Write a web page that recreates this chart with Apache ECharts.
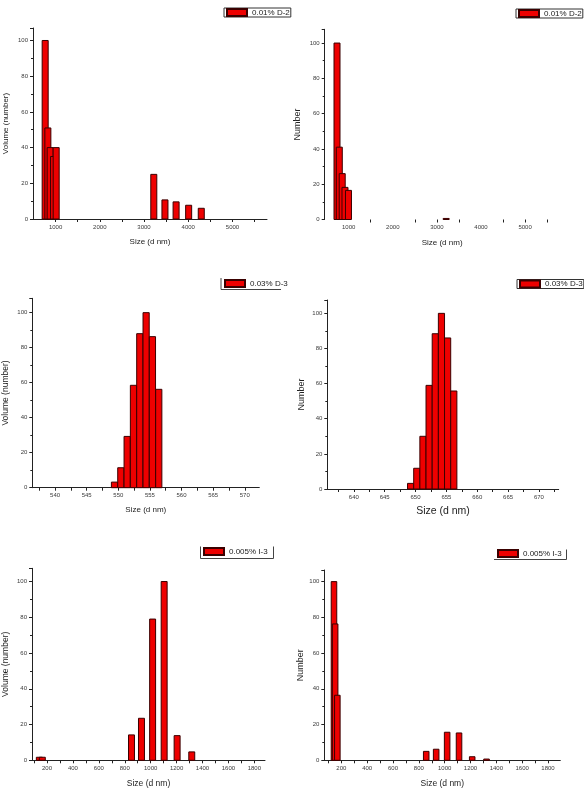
<!DOCTYPE html>
<html><head><meta charset="utf-8">
<script src="https://cdn.jsdelivr.net/npm/echarts@6/dist/echarts.min.js"></script>
<style>html,body{margin:0;padding:0;background:#fff}#c{width:584px;height:795px}</style>
</head><body><div id="c"></div>
<script>
// ---------- data ----------
const p1Sizes  = [765, 826, 878, 955, 1014, 3221, 3473, 3725, 4009, 4294];
const p1Values = [100, 51, 40, 35, 40, 25, 10.7, 9.6, 7.7, 6];
const p2Sizes  = [735, 787, 853, 916, 995, 3210];
const p2Values = [100, 41, 26, 18.2, 16.5, 0.6];
const p3Sizes  = [549.4, 550.4, 551.4, 552.4, 553.4, 554.4, 555.4, 556.4];
const p3Values = [3.2, 11.4, 29.3, 58.5, 88, 100, 86.3, 56.2];
const p4Sizes  = [649.2, 650.2, 651.2, 652.2, 653.2, 654.2, 655.2, 656.2];
const p4Values = [3.2, 11.8, 30, 59, 88.4, 100, 86, 55.8];
const p5Sizes  = [141, 164, 852, 929, 1015, 1104, 1204, 1317];
const p5Values = [1.7, 1.7, 14.2, 23.5, 79, 100, 13.8, 4.7];
const p6Sizes  = [143, 152, 169, 857, 934, 1019, 1111, 1213, 1324];
const p6Values = [100, 76.3, 36.4, 5, 6.2, 15.7, 15.3, 2, 0.7];

const topXLabels = [1000, 2000, 3000, 4000, 5000];
const p1XTicks   = [1000, 1500, 2000, 2500, 3000, 3500, 4000, 4500, 5000, 5500];
const p2XTicks   = [1500, 2500, 3000, 3500, 4500, 5000, 5500];
const p3XLabels  = [540, 545, 550, 555, 560, 565, 570];
const p3XTicks   = [537.5, 540, 542.5, 545, 547.5, 550, 552.5, 555, 557.5, 560, 562.5, 565, 567.5, 570];
const p4XLabels  = [640, 645, 650, 655, 660, 665, 670];
const p4XTicks   = [637.5, 640, 642.5, 645, 647.5, 650, 652.5, 655, 657.5, 660, 662.5, 665, 667.5, 670, 672.5];
const botXLabels = [200, 400, 600, 800, 1000, 1200, 1400, 1600, 1800];
const botXTicks  = [100, 200, 300, 400, 500, 600, 700, 800, 900, 1000, 1100, 1200, 1300, 1400, 1500, 1600, 1700, 1800];

const legendNames = ['0.01% D-2', '0.01% D-2', '0.03% D-3', '0.03% D-3', '0.005% I-3', '0.005% I-3'];
const yTitles = ['Volume (number)', 'Number', 'Volume (number)', 'Number', 'Volume (number)', 'Number'];
const xTitle = 'Size (d nm)';

// ---------- layout ----------
const FONT = 'Liberation Sans, Arial, sans-serif';
const panels = [
  {sizes:p1Sizes, values:p1Values, bin:136, grid:{left:33, top:28, width:234, height:191}, xMin:490, xMax:5780, yMax:107,
   xLabels:topXLabels, xTicks:p1XTicks, xLine:true, xGap:19, yGap:23, yFont:8, xFont:8,
   legend:{left:224, top:8, border:true}},
  {sizes:p2Sizes, values:p2Values, bin:136, grid:{left:324.7, top:29.3, width:234.8, height:190.2}, xMin:456, xMax:5780, yMax:107.8,
   xLabels:topXLabels, xTicks:p2XTicks, xLine:false, xGap:19, yGap:23, yFont:9, xFont:8,
   legend:{left:516, top:9, border:true}},
  {sizes:p3Sizes, values:p3Values, bin:0.98, grid:{left:32.3, top:298.3, width:227, height:189.4}, xMin:536.4, xMax:572.3, yMax:108.2,
   xLabels:p3XLabels, xTicks:p3XTicks, xLine:true, xGap:18, yGap:22, yFont:8.5, xFont:8,
   legend:{left:222, top:279, border:false}},
  {sizes:p4Sizes, values:p4Values, bin:1.0, grid:{left:327.3, top:300, width:231.4, height:189}, xMin:635.7, xMax:673.2, yMax:107.6,
   xLabels:p4XLabels, xTicks:p4XTicks, xLine:true, xGap:17, yGap:21.5, yFont:9, xFont:10.5,
   legend:{left:517, top:279.5, border:true}},
  {sizes:p5Sizes, values:p5Values, bin:46, grid:{left:31.7, top:568.3, width:233.3, height:192}, xMin:84.4, xMax:1882, yMax:107.4,
   xLabels:botXLabels, xTicks:botXTicks, xLine:true, xGap:19, yGap:22, yFont:8.5, xFont:8.5,
   legend:{left:201, top:547, border:false}},
  {sizes:p6Sizes, values:p6Values, bin:43, grid:{left:324.3, top:570, width:236, height:190.3}, xMin:68, xMax:1895, yMax:106.5,
   xLabels:botXLabels, xTicks:botXTicks, xLine:true, xGap:19, yGap:19.5, yFont:9, xFont:8.5,
   legend:{left:495, top:549, border:false}}
];

const BAR_FILL = '#ee0000', BAR_EDGE = '#3a0000', AXIS = '#222', LBL = '#3a3a3a';

function makeRender(bin) {
  return function (params, api) {
    const x = api.value(0), y = api.value(1);
    const a = api.coord([x - bin / 2, y]);
    const b = api.coord([x + bin / 2, 0]);
    return {type:'rect', shape:{x:a[0], y:a[1], width:b[0] - a[0], height:b[1] - a[1]},
      style:{fill:BAR_FILL, stroke:BAR_EDGE, lineWidth:1}};
  };
}

const plain = v => String(v);

const option = {backgroundColor:'#fff', animation:false, textStyle:{fontFamily:FONT},
  grid:[], xAxis:[], yAxis:[], series:[], legend:[], graphic:[]};

panels.forEach((p, i) => {
  option.grid.push(Object.assign({containLabel:false}, p.grid));
  option.xAxis.push({type:'value', gridIndex:i, min:p.xMin, max:p.xMax,
    name:xTitle, nameLocation:'middle', nameGap:p.xGap,
    nameTextStyle:{fontSize:p.xFont, color:'#222', fontFamily:FONT},
    axisLine:{show:p.xLine, lineStyle:{color:AXIS, width:1}},
    axisTick:{show:true, customValues:p.xTicks, length:3, lineStyle:{color:AXIS}},
    axisLabel:{customValues:p.xLabels, formatter:plain, fontSize:6, color:LBL, margin:5, fontFamily:FONT},
    splitLine:{show:false}});
  option.yAxis.push({type:'value', gridIndex:i, min:0, max:p.yMax, interval:20,
    name:yTitles[i], nameLocation:'middle', nameGap:p.yGap, nameRotate:90,
    nameTextStyle:{fontSize:p.yFont, color:'#222', fontFamily:FONT},
    axisLine:{show:true, lineStyle:{color:AXIS, width:1}},
    axisTick:{show:true, length:3, lineStyle:{color:AXIS}},
    minorTick:{show:true, splitNumber:2, length:2, lineStyle:{color:AXIS}},
    axisLabel:{formatter:plain, fontSize:6, color:LBL, margin:5, fontFamily:FONT, showMaxLabel:false},
    splitLine:{show:false}});
  option.series.push({type:'custom', name:legendNames[i], xAxisIndex:i, yAxisIndex:i, clip:false,
    itemStyle:{color:BAR_FILL, borderColor:BAR_EDGE, borderWidth:1},
    renderItem:makeRender(p.bin),
    data:p.sizes.map((s, k) => [s, p.values[k]])});
  option.legend.push({left:p.legend.left, top:p.legend.top, data:[legendNames[i]],
    icon:'rect', itemWidth:20, itemHeight:7, itemGap:0,
    padding:[0, 1, 0, 2], borderWidth:p.legend.border ? 1 : 0, borderColor:'#333',
    selectedMode:false,
    textStyle:{fontSize:8, color:'#222', fontFamily:FONT}});
});

// partial legend frames
const frames = [
  [221, 278, 221, 289.5], [221, 289.5, 281, 289.5],
  [200.5, 546.5, 200.5, 558.5], [273.5, 546.5, 273.5, 558.5], [200.5, 558.5, 273.5, 558.5],
  [566.5, 549.5, 566.5, 559.5], [494, 559.5, 566.5, 559.5]
];
frames.forEach(f => option.graphic.push({type:'line', shape:{x1:f[0], y1:f[1], x2:f[2], y2:f[3]},
  style:{stroke:'#444', lineWidth:1}, silent:true}));

const chart = echarts.init(document.getElementById('c'), null, {renderer:'canvas'});
chart.setOption(option);
</script></body></html>
